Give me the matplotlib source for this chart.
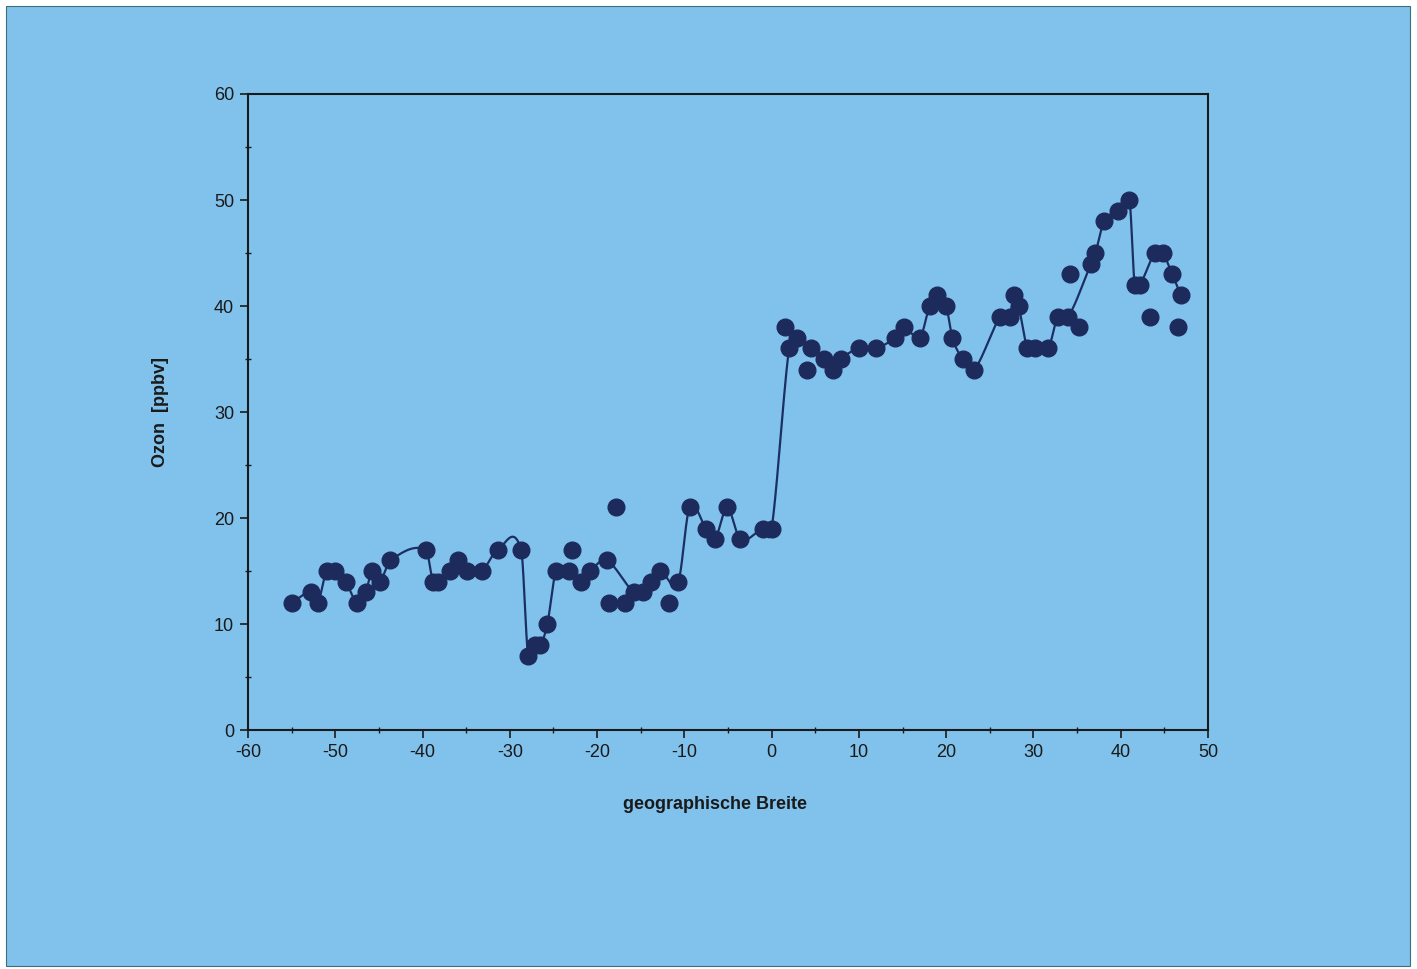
import numpy as np
import matplotlib
matplotlib.use("Agg")
from matplotlib import pyplot as plt
from matplotlib.patches import Rectangle
from matplotlib.ticker import MultipleLocator

# Ozon-Messungen entlang der Fahrtroute (Breite in Grad, Ozon in ppbv)
breite = [-55, -52.8, -52, -51, -50, -48.8, -47.5, -46.5, -45.8, -44.9,
          -43.7, -39.6, -38.8, -38.2, -36.9, -35.9, -34.9, -33.2, -31.4, -28.7,
          -27.9, -27.1, -26.5, -25.7, -24.7, -23.2, -22.9, -21.8, -20.8, -18.9,
          -18.6, -17.8, -16.8, -15.8, -14.7, -13.8, -12.8, -11.8, -10.7, -9.4,
          -7.5, -6.5, -5.1, -3.6, -1.0, 0.0, 1.5, 2.0, 2.9, 4.1,
          4.5, 6.0, 7.0, 7.9, 10.0, 12.0, 14.1, 15.2, 17.0, 18.1,
          19.0, 20.0, 20.7, 21.9, 23.2, 26.2, 27.3, 27.8, 28.3, 29.3,
          30.2, 31.7, 32.8, 34.0, 34.2, 35.2, 36.6, 37.1, 38.1, 39.7,
          41.0, 41.6, 42.2, 43.4, 43.9, 44.8, 45.9, 46.9, 46.6]
ozon = [12, 13, 12, 15, 15, 14, 12, 13, 15, 14,
        16, 17, 14, 14, 15, 16, 15, 15, 17, 17,
        7, 8, 8, 10, 15, 15, 17, 14, 15, 16,
        12, 21, 12, 13, 13, 14, 15, 12, 14, 21,
        19, 18, 21, 18, 19, 19, 38, 36, 37, 34,
        36, 35, 34, 35, 36, 36, 37, 38, 37, 40,
        41, 40, 37, 35, 34, 39, 39, 41, 40, 36,
        36, 36, 39, 39, 43, 38, 44, 45, 48, 49,
        50, 42, 42, 39, 45, 45, 43, 41, 38]
# 1 = Punkt liegt auf der geglaetteten Kurve
auf_kurve = [1, 1, 1, 1, 1, 1, 1, 1, 1, 1,
             1, 1, 1, 1, 1, 1, 1, 1, 1, 1,
             1, 1, 1, 1, 1, 1, 0, 1, 1, 1,
             0, 0, 0, 1, 1, 1, 1, 0, 1, 1,
             1, 1, 1, 1, 1, 1, 0, 1, 1, 0,
             1, 1, 1, 1, 1, 1, 1, 1, 1, 1,
             1, 1, 1, 1, 1, 1, 1, 1, 1, 1,
             1, 1, 1, 1, 0, 0, 1, 1, 1, 1,
             1, 1, 1, 0, 1, 1, 1, 1, 0]


def glatt(x, y, n=25):
    # kubische Hermite-Kurve ueber x, Steigungen aus den Nachbarpunkten
    d = np.empty_like(y)
    d[1:-1] = (y[2:] - y[:-2]) / (x[2:] - x[:-2])
    d[0] = (y[1] - y[0]) / (x[1] - x[0])
    d[-1] = (y[-1] - y[-2]) / (x[-1] - x[-2])
    t = np.linspace(0, 1, n, endpoint=False)[:, None]
    h = np.diff(x)
    h00 = 2 * t**3 - 3 * t**2 + 1
    h10 = t**3 - 2 * t**2 + t
    h01 = -2 * t**3 + 3 * t**2
    h11 = t**3 - t**2
    xs = x[:-1] + t * h
    ys = h00 * y[:-1] + h10 * h * d[:-1] + h01 * y[1:] + h11 * h * d[1:]
    return np.append(xs.T.ravel(), x[-1]), np.append(ys.T.ravel(), y[-1])


b = np.array(breite, dtype=float)
o = np.array(ozon, dtype=float)
m = np.array(auf_kurve, dtype=bool)

plt.rcParams['font.family'] = ['Liberation Sans', 'DejaVu Sans']
plt.rcParams['axes.unicode_minus'] = False

fig = plt.figure(figsize=(14.17, 9.69), dpi=100)
fig.patch.set_facecolor('white')
fig.patches.append(Rectangle((0.004, 0.003), 0.991, 0.991, transform=fig.transFigure,
                             facecolor='#80c2ec', edgecolor='#3c6f7a', linewidth=0.8,
                             zorder=-10))

ax = fig.add_axes([0.175, 0.2466, 0.6775, 0.6564])
ax.set_facecolor('none')

kx, ky = glatt(b[m], o[m])
ax.plot(kx, ky, color='#1c2f63', linewidth=1.6, zorder=2)
ax.plot(b, o, 'o', color='#1d2a5c', markersize=12, zorder=3)

ax.set_xlim(-60, 50)
ax.set_ylim(0, 60)
ax.xaxis.set_major_locator(MultipleLocator(10))
ax.xaxis.set_minor_locator(MultipleLocator(5))
ax.yaxis.set_major_locator(MultipleLocator(10))
ax.yaxis.set_minor_locator(MultipleLocator(5))
ax.tick_params(which='major', direction='out', length=6, width=1.2,
               labelsize=13, pad=4, colors='#1a1a1a')
ax.tick_params(which='minor', direction='inout', length=5, width=1.0, colors='#1a1a1a')
for s in ax.spines.values():
    s.set_linewidth(1.5)
    s.set_color('#1a1a1a')

ax.set_xlabel("geographische Breite", fontsize=13, fontweight='bold',
              color='#1a1a1a')
ax.xaxis.set_label_coords(0.486, -0.104)
ax.set_ylabel("Ozon  [ppbv]", fontsize=13, fontweight='bold',
              color='#1a1a1a', labelpad=32)

fig.savefig("out.png", dpi=100, facecolor=fig.get_facecolor())
